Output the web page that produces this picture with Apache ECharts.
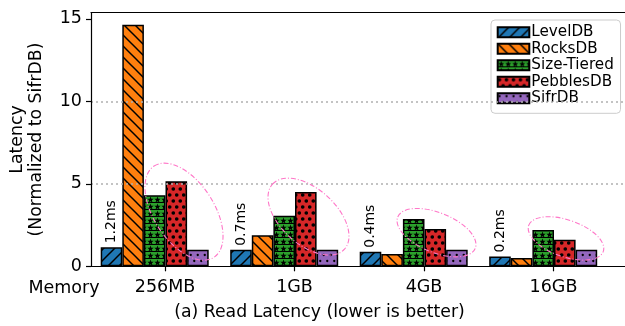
<!DOCTYPE html>
<html>
<head>
<meta charset="utf-8">
<script src="https://cdn.jsdelivr.net/npm/echarts@6/dist/echarts.min.js"></script>
<style>
  html, body { margin: 0; padding: 0; background: #fff; }
  #chart { width: 625px; height: 326px; }
</style>
</head>
<body>
<div id="chart"></div>
<script>
// Read latency per memory budget, normalized to SifrDB
const memory = ['256MB', '1GB', '4GB', '16GB'];
const levelDB = [1.15, 1.0, 0.88, 0.6];
const rocksDB = [14.64, 1.88, 0.74, 0.5];
const sizeTiered = [4.31, 3.06, 2.86, 2.2];
const pebblesDB = [5.16, 4.51, 2.26, 1.61];
const sifrDB = [1, 1, 1, 1];
// absolute SifrDB latency written above each group
const latencyLabels = ['1.2ms', '0.7ms', '0.4ms', '0.2ms'];
const yTicks = [0, 5, 10, 15];

const FONT = 'DejaVu Sans';
const Y_MAX = 15.37;
const GRID_TOP = 12.7;
const GRID_BOTTOM = 59.7;

// ---- hatch fills built as repeating canvas tiles ----
function tile(w, h, bg, draw) {
  const c = document.createElement('canvas');
  c.width = w; c.height = h;
  const g = c.getContext('2d');
  g.fillStyle = bg;
  g.fillRect(0, 0, w, h);
  g.strokeStyle = '#000';
  g.fillStyle = '#000';
  draw(g, w, h);
  return { image: c, repeat: 'repeat' };
}
function line(g, x1, y1, x2, y2) {
  g.beginPath(); g.moveTo(x1, y1); g.lineTo(x2, y2); g.stroke();
}
function dot(g, x, y, r) {
  g.beginPath(); g.arc(x, y, r, 0, Math.PI * 2); g.fill();
}
function star(g, cx, cy, R, r) {
  g.beginPath();
  for (let i = 0; i < 10; i++) {
    const rad = i % 2 ? r : R;
    const a = -Math.PI / 2 + i * Math.PI / 5;
    const px = cx + rad * Math.cos(a), py = cy + rad * Math.sin(a);
    if (i === 0) g.moveTo(px, py); else g.lineTo(px, py);
  }
  g.closePath(); g.fill();
}

const fillLevel = tile(11, 11, '#1f77b4', (g, w, h) => {
  g.lineWidth = 1.5;
  line(g, -1, h + 1, w + 1, -1);
  line(g, -2, 2, 2, -2);
  line(g, w - 2, h + 2, w + 2, h - 2);
});
const fillRocks = tile(11, 11, '#ff7f0e', (g, w, h) => {
  g.lineWidth = 1.5;
  line(g, -1, -1, w + 1, h + 1);
  line(g, w - 2, -2, w + 2, 2);
  line(g, -2, h - 2, 2, h + 2);
});
const fillTiered = tile(7, 7, '#2ca02c', (g, w, h) => {
  star(g, 3.5, 3.8, 3.4, 1.4);
  g.fillRect(0, 6, w, 1);
});
const fillPebbles = tile(7, 12, '#d62728', (g) => {
  dot(g, 1.75, 3, 1.8);
  dot(g, 5.25, 9, 1.8);
});
const fillSifr = tile(7, 12, '#9467bd', (g) => {
  dot(g, 1.75, 3, 1.15);
  dot(g, 5.25, 9, 1.15);
});

const BAR_W = 21.6;
function barSeries(name, data, fill, extra) {
  return Object.assign({
    name: name,
    type: 'bar',
    xAxisIndex: 2,
    yAxisIndex: 1,
    data: data,
    barWidth: BAR_W,
    barGap: '0%',
    itemStyle: { color: fill, borderColor: '#000', borderWidth: 1.5 },
    emphasis: { disabled: true }
  }, extra || {});
}

const chart = echarts.init(document.getElementById('chart'), null, { renderer: 'canvas' });

const option = {
  animation: false,
  textStyle: { fontFamily: FONT },
  grid: [
    // frame, y scale and dotted guides
    { left: 91, right: -20, top: GRID_TOP, bottom: GRID_BOTTOM },
    // bar groups, one 129.5px band per memory size
    { left: 100.25, width: 518, top: GRID_TOP, bottom: GRID_BOTTOM }
  ],
  xAxis: [
    { gridIndex: 0, type: 'value', min: 0, max: 1, z: 5,
      axisLine: { show: true, onZero: false, lineStyle: { color: '#000', width: 1.2 } },
      axisTick: { show: false }, axisLabel: { show: false }, splitLine: { show: false } },
    { gridIndex: 0, type: 'value', position: 'top', min: 0, max: 1, z: 5,
      axisLine: { show: true, onZero: false, lineStyle: { color: '#000', width: 1.2 } },
      axisTick: { show: false }, axisLabel: { show: false }, splitLine: { show: false } },
    { gridIndex: 1, type: 'category', data: memory,
      axisLine: { show: false },
      axisTick: { show: true, alignWithLabel: true, length: 5, lineStyle: { color: '#000', width: 1.2 } },
      axisLabel: { fontSize: 17.5, color: '#000', fontFamily: FONT, margin: 12 },
      splitLine: { show: false } }
  ],
  yAxis: [
    { gridIndex: 0, type: 'value', min: 0, max: Y_MAX, z: 5,
      axisLine: { show: true, lineStyle: { color: '#000', width: 1.2 } },
      axisTick: { show: true, length: 5, customValues: yTicks, lineStyle: { color: '#000', width: 1.2 } },
      axisLabel: { fontSize: 17.5, color: '#000', fontFamily: FONT, margin: 9, customValues: yTicks },
      splitLine: { show: true, showMinLine: false, showMaxLine: false,
        lineStyle: { color: '#b0b0b0', type: [2, 3], width: 1.5 } } },
    { gridIndex: 1, type: 'value', min: 0, max: Y_MAX, show: false }
  ],
  legend: {
    data: ['LevelDB', 'RocksDB', 'Size-Tiered', 'PebblesDB', 'SifrDB'],
    orient: 'vertical',
    left: 491, top: 20,
    padding: [4, 6.7, 6.8, 5.7],
    itemGap: 0,
    itemWidth: 31.6,
    itemHeight: 10,
    icon: 'rect',
    backgroundColor: 'rgba(255,255,255,0.8)',
    borderColor: '#cccccc',
    borderWidth: 1,
    borderRadius: 4,
    selectedMode: false,
    textStyle: { fontSize: 15.2, fontFamily: FONT, color: '#000', lineHeight: 16.5, padding: [0, 0, 0, -3] }
  },
  series: [
    barSeries('LevelDB', levelDB, fillLevel, {
      label: {
        show: true, position: 'top', rotate: 90, align: 'left', verticalAlign: 'middle',
        distance: 4, fontSize: 14, fontFamily: FONT, color: '#000',
        formatter: (p) => latencyLabels[p.dataIndex]
      }
    }),
    barSeries('RocksDB', rocksDB, fillRocks),
    barSeries('Size-Tiered', sizeTiered, fillTiered),
    barSeries('PebblesDB', pebblesDB, fillPebbles),
    barSeries('SifrDB', sifrDB, fillSifr),
    // empty slot that pushes each group left of its tick
    { name: '_slot', type: 'bar', xAxisIndex: 2, yAxisIndex: 1, barWidth: 20.6, barGap: '0%',
      data: memory.map(() => '-'), silent: true, itemStyle: { opacity: 0 } }
  ],
  graphic: [
    { type: 'text', id: 'yname', x: 27, y: 139.5, rotation: Math.PI / 2,
      style: { text: 'Latency\n(Normalized to SifrDB)', fontSize: 17.3, fontFamily: FONT,
        fill: '#000', align: 'center', verticalAlign: 'middle', lineHeight: 19.5 } },
    { type: 'text', id: 'memory', x: 64, y: 288,
      style: { text: 'Memory', fontSize: 17.5, fontFamily: FONT, fill: '#000',
        align: 'center', verticalAlign: 'middle' } },
    { type: 'text', id: 'caption', x: 319.5, y: 313,
      style: { text: '(a) Read Latency (lower is better)', fontSize: 17.3, fontFamily: FONT,
        fill: '#000', align: 'center', verticalAlign: 'middle' } }
  ]
};
chart.setOption(option);

// dash-dot ellipses circling the Size-Tiered / PebblesDB / SifrDB bars of each group
const rings = [
  { cat: 0, dx: 19, value: 3.31, rx: 54.6, ry: 30, deg: 56.8 },
  { cat: 1, dx: 14, value: 3.01, rx: 48.5, ry: 27.7, deg: 42.1 },
  { cat: 2, dx: 12.5, value: 2.04, rx: 41.8, ry: 19.9, deg: 22 },
  { cat: 3, dx: 12.5, value: 1.69, rx: 39.5, ry: 18.4, deg: 19.2 }
];
const ringGraphics = rings.map((r, i) => {
  const p = chart.convertToPixel({ xAxisIndex: 2, yAxisIndex: 1 }, [r.cat, r.value]);
  return {
    type: 'ellipse', id: 'ring' + i, z: 50,
    x: p[0] + r.dx, y: p[1], rotation: -r.deg * Math.PI / 180,
    shape: { cx: 0, cy: 0, rx: r.rx, ry: r.ry },
    style: { fill: 'none', stroke: '#ff77c8', lineWidth: 1.1, lineDash: [5, 2, 1, 2] },
    silent: true
  };
});
chart.setOption({ graphic: ringGraphics });
</script>
</body>
</html>
